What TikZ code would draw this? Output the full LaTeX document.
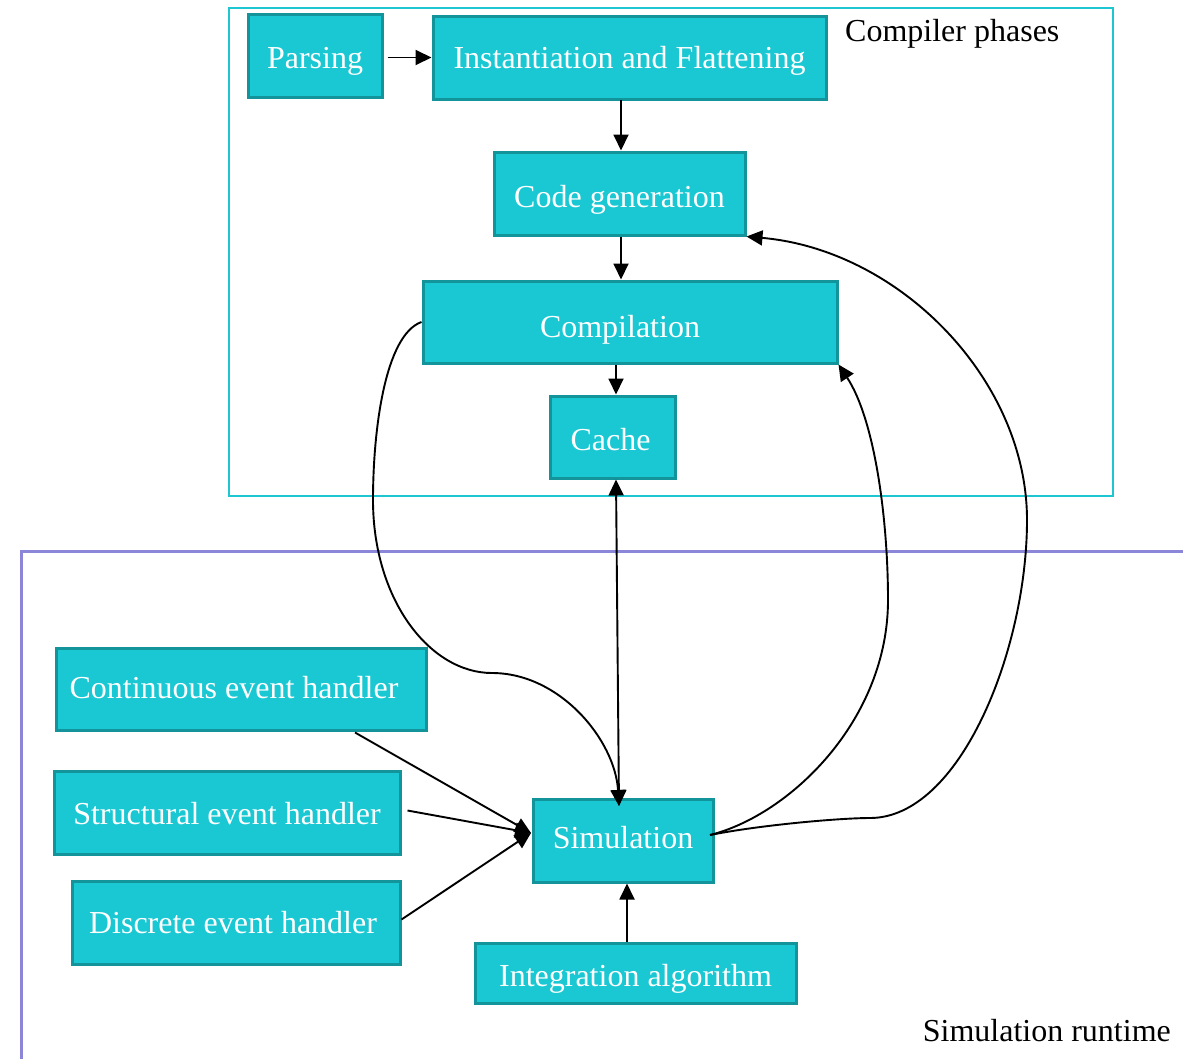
\documentclass[tikz,border=0pt]{standalone}
\usepackage{fontspec}
\setmainfont{Liberation Serif}
\usetikzlibrary{arrows.meta}
\definecolor{boxfill}{HTML}{19C8D2}
\definecolor{boxline}{HTML}{13949B}
\definecolor{compframe}{HTML}{1DC6D0}
\definecolor{runframe}{HTML}{8C86D8}
\tikzset{
  box/.style={draw=boxline, fill=boxfill, line width=3pt, text=white,
    font=\fontsize{32}{38}\selectfont, inner sep=0pt, anchor=center, text depth=0pt},
  tip/.tip={Triangle[length=16pt,width=15pt]},
  edge/.style={line width=1.9pt, -tip},
  lbl/.style={font=\fontsize{32}{38}\selectfont, text=black, inner sep=0pt}
}
\begin{document}
\begin{tikzpicture}[x=1pt,y=-1pt]
\useasboundingbox (0,0) rectangle (1183,1058);
% frames
\draw[compframe, line width=2.5pt] (229,8) rectangle (1113,496);
\draw[runframe, line width=3pt] (1190,551) -- (21,551) -- (21,1065);
\node[lbl, anchor=base west] (cp) at (845,41) {Compiler phases};
\node[lbl, anchor=base east] (sr) at (1171,1041) {Simulation runtime};
% boxes
\node[box, text height=25pt, minimum width=134pt, minimum height=83pt] (pars) at (315,55.5) {Parsing};
\node[box, text height=21pt, minimum width=393pt, minimum height=83pt] (inst) at (629.5,57.5) {Instantiation and Flattening};
\node[box, text height=27pt, minimum width=251pt, minimum height=83pt] (code) at (619.5,193.5) {Code generation};
\node[box, text height=30pt, minimum width=414pt, minimum height=82pt] (comp) at (630,322) {Compilation\kern20pt};
\node[box, text height=26pt, minimum width=125pt, minimum height=82pt] (cache) at (612.5,437) {\kern-4pt Cache};
\node[box, text height=18pt, minimum width=370pt, minimum height=82pt] (cont) at (241,689) {Continuous event handler\kern14pt};
\node[box, text height=23pt, minimum width=346pt, minimum height=83pt] (struc) at (227,812.5) {Structural event handler};
\node[box, text height=21pt, minimum width=328pt, minimum height=83pt] (disc) at (236,922.5) {Discrete event handler\kern6pt};
\node[box, text height=15pt, minimum width=180pt, minimum height=83pt] (sim) at (623,840.5) {Simulation};
\node[box, text height=26pt, minimum width=321pt, minimum height=60pt] (integ) at (635.5,973) {Integration algorithm};
% coordinates
\coordinate (simW) at (531,833);
\coordinate (simE) at (710,835);
\coordinate (simN) at (619,806);
% edges
\draw[edge] (pars.east |- inst.west) ++(4,0) -- (inst.west);
\draw[edge] (621,100) -- (code.north -| 621,0);
\draw[edge] (code.south -| 621,0) -- (comp.north -| 621,0);
\draw[edge] (comp.south -| 616,0) -- (cache.north -| 616,0);
\draw[edge, tip-tip] (cache.south -| 616,0) -- (simN);
\draw[edge] (integ.north -| 627,0) -- (sim.south -| 627,0);
\draw[edge] (cont.south) ++(114,1) -- (simW);
\draw[edge] (struc.east) ++(6,-2) -- (simW);
\draw[edge] (disc.east) ++(0,-3) -- (simW);
\draw[edge] (comp.west) .. controls (385,335) and (373,430) .. (373,500)
  .. controls (373,600) and (430,673) .. (492,673)
  .. controls (560,673) and (615,740) .. (simN);
\draw[edge] (simE) .. controls (790,815) and (888,720) .. (888,600)
  .. controls (888,520) and (875,420) .. (comp.south east);
\draw[edge] (simE) .. controls (760,825) and (840,818) .. (870,818)
  .. controls (960,818) and (1027,650) .. (1027,520)
  .. controls (1027,380) and (900,250) .. (code.south east);
\end{tikzpicture}
\end{document}
